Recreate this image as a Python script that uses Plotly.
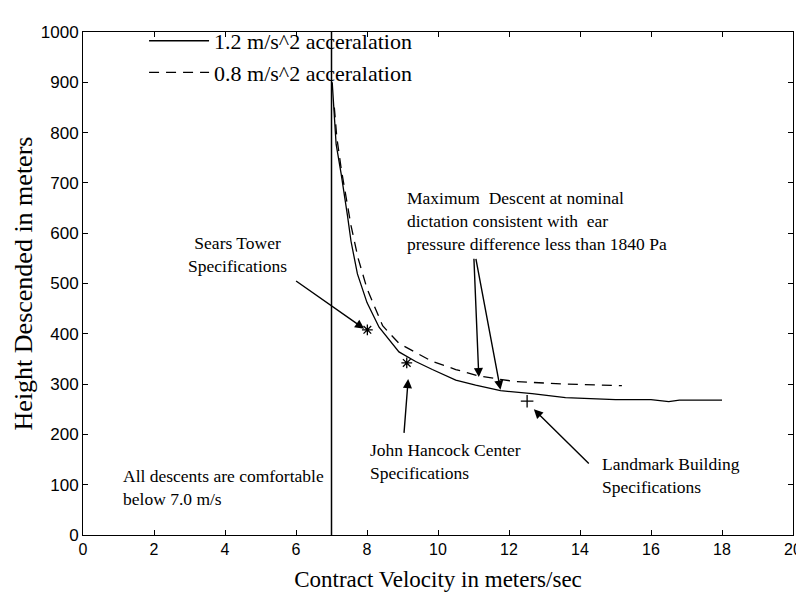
import plotly.graph_objects as go

# ---- data ----
solid_x = [7.02, 7.05, 7.13, 7.27, 7.36, 7.45, 7.55, 7.73, 8.0, 8.34, 8.9, 9.37, 9.84, 10.5, 11.06, 11.76, 12.65, 13.59, 15.0, 16.0, 16.5, 16.8, 18.0]
solid_y = [900, 860, 777, 719, 681, 635, 584, 519, 462, 413, 364, 345, 329, 308, 298, 287, 281, 273, 269, 269, 265, 268, 268]

dashed_x = [7.08, 7.15, 7.28, 7.4, 7.55, 7.75, 8.0, 8.44, 8.9, 9.84, 10.5, 11.15, 12.18, 13.59, 15.18]
dashed_y = [850, 790, 725, 675, 615, 550, 490, 416, 381, 345, 329, 316, 305, 300, 297]

threshold_x = [7.0, 7.0]
threshold_y = [0, 1000]

sears = (8.01, 408)
hancock = (9.12, 342)
landmark = (12.51, 266)

x_ticks = list(range(0, 21, 2))
y_ticks = list(range(0, 1001, 100))

serif = "Liberation Serif, Times New Roman, serif"
sans = "Liberation Sans, Arial, sans-serif"

fig = go.Figure()
fig.add_trace(go.Scatter(x=solid_x, y=solid_y, mode="lines", name="1.2 m/s^2 acceralation",
                         line=dict(color="black", width=1.3)))
fig.add_trace(go.Scatter(x=dashed_x, y=dashed_y, mode="lines", name="0.8 m/s^2 acceralation",
                         line=dict(color="black", width=1.3, dash="10px,7px")))
fig.add_trace(go.Scatter(x=threshold_x, y=threshold_y, mode="lines", showlegend=False,
                         line=dict(color="black", width=1.5)))
fig.add_trace(go.Scatter(x=[sears[0], hancock[0]], y=[sears[1], hancock[1]], mode="markers", showlegend=False,
                         marker=dict(symbol="asterisk-open", size=9, color="black", line=dict(color="black", width=1.3))))
fig.add_trace(go.Scatter(x=[landmark[0]], y=[landmark[1]], mode="markers", showlegend=False,
                         marker=dict(symbol="cross-thin-open", size=9, color="black", line=dict(color="black", width=1.3))))

# arrows (tip, tail)
arrows = [
    ((7.92, 410), (5.96, 507)),
    ((9.16, 310), (9.04, 200)),
    ((12.7, 250), (14.29, 139)),
    ((11.15, 314), (11.01, 552)),
    ((11.76, 289), (11.06, 552)),
]
for (tx, ty), (sx, sy) in arrows:
    fig.add_annotation(x=tx, y=ty, ax=sx, ay=sy, xref="x", yref="y", axref="x", ayref="y",
                       text="", showarrow=True, arrowhead=2, arrowsize=1.3, arrowwidth=1.4,
                       arrowcolor="black")

texts = [
    (4.34, 558, "Sears Tower<br>Specifications", "center"),
    (9.07, 625, "Maximum  Descent at nominal<br>dictation consistent with  ear<br>pressure difference less than 1840 Pa", "left"),
    (8.03, 147, "John Hancock Center<br>Specifications", "left"),
    (14.56, 119, "Landmark Building<br>Specifications", "left"),
    (1.07, 95, "All descents are comfortable<br>below 7.0 m/s", "left"),
]
for x, y, t, al in texts:
    fig.add_annotation(x=x, y=y, xref="x", yref="y", text=t, showarrow=False,
                       xanchor="center" if al == "center" else "left", yanchor="middle", align=al,
                       font=dict(family=serif, size=17.5, color="black"))

fig.update_xaxes(range=[0, 20], tickvals=x_ticks, ticks="inside", ticklen=5, tickcolor="black",
                 showline=True, linecolor="black", linewidth=1, mirror="ticks",
                 showgrid=False, zeroline=False, automargin=False,
                 tickfont=dict(family=sans, size=16, color="black"),
                 title=dict(text="Contract Velocity in meters/sec", font=dict(family=serif, size=23, color="black"), standoff=13))
fig.update_yaxes(range=[0, 1000], tickvals=y_ticks, ticks="inside", ticklen=5, tickcolor="black",
                 showline=True, linecolor="black", linewidth=1, mirror="ticks",
                 showgrid=False, zeroline=False, automargin=False,
                 tickfont=dict(family=sans, size=17, color="black"),
                 title=dict(text="Height Descended in meters", font=dict(family=serif, size=26, color="black"), standoff=0))

fig.update_layout(
    width=804, height=598,
    margin=dict(l=75, r=19, t=12, b=71),
    plot_bgcolor="white", paper_bgcolor="white",
    legend=dict(x=0.086, y=1.024, xanchor="left", yanchor="top", bgcolor="rgba(0,0,0,0)",
                font=dict(family=serif, size=22, color="black"), itemwidth=60, tracegroupgap=0),
)

fig.write_html("out.html")
